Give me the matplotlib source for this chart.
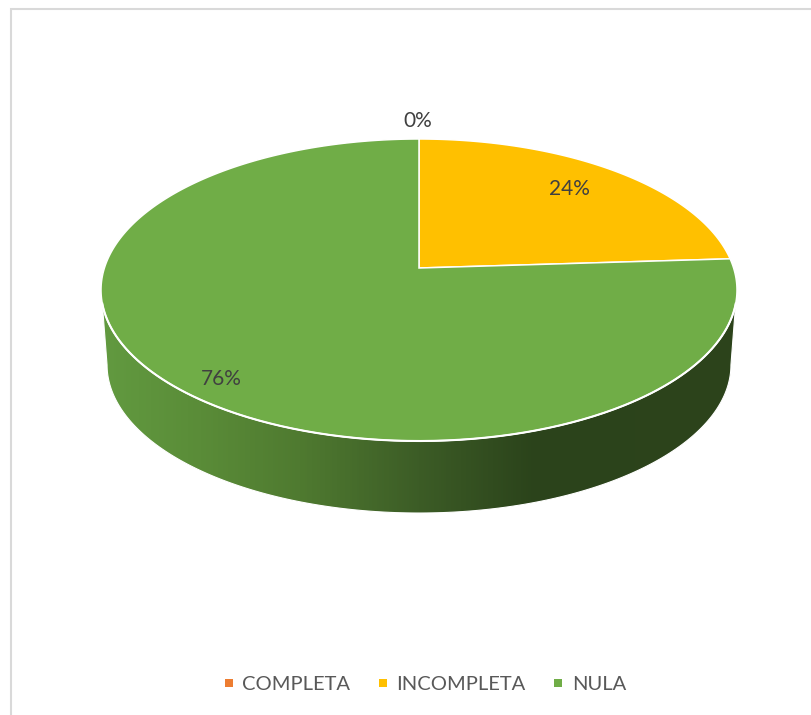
"""3D-style pie chart of completeness shares."""

import matplotlib
matplotlib.use("Agg")
import matplotlib.pyplot as plt
import numpy as np
from matplotlib.colors import LinearSegmentedColormap
from matplotlib.patches import Polygon, Rectangle

categories = ["COMPLETA", "INCOMPLETA", "NULA"]
shares = [0, 24, 76]
colors = ["#ED7D31", "#FFC000", "#70AD47"]

# Pie geometry in pixels, with a slight perspective on the tilted disc
CX, CY = 419, 268
RX, RY = 314.6, 147.8
PERSPECTIVE = 0.1457
BOTTOM_SCALE = 0.981
DEPTH = 75.3
W, H = 812, 715

plt.rcParams["font.family"] = ["Lato", "DejaVu Sans"]


def rim(theta, scale=1.0, drop=0.0):
    """Screen points of the disc rim; theta runs clockwise from the top, in degrees."""
    t = np.radians(theta)
    u, v = np.sin(t), np.cos(t)
    d = 1 + PERSPECTIVE * v
    return np.column_stack([CX + scale * RX * u / d, CY + drop - scale * RY * v / d])


fig = plt.figure(figsize=(W / 100, H / 100), dpi=100)
ax = fig.add_axes([0, 0, 1, 1])

# Side wall: lower half of the top rim joined to the lower half of the base rim
side_pts = np.vstack([
    rim(np.linspace(103.5, 256.5, 200)),
    rim(np.linspace(261.6, 98.4, 200), BOTTOM_SCALE, DEPTH),
])
side = Polygon(side_pts, closed=True, fc="none", ec="none")
ax.add_patch(side)

grad_x = [101, 200, 300, 420, 535, 737]
grad_c = ["#629A40", "#5A8C38", "#4F7A30", "#3C5C26", "#2B431B", "#2D441C"]
stops = [(x - grad_x[0]) / (grad_x[-1] - grad_x[0]) for x in grad_x]
cmap = LinearSegmentedColormap.from_list("side", list(zip(stops, grad_c)))
img = ax.imshow(np.linspace(0, 1, 636)[None, :], cmap=cmap, aspect="auto",
                extent=(101, 737, 520, 280), interpolation="bilinear", zorder=1)
img.set_clip_path(side)
ax.add_patch(Polygon(side_pts, closed=True, fc="none", ec="white", lw=0.8, zorder=2))

# Top face, clockwise from twelve o'clock
start = 0.0
for share, color in zip(shares, colors):
    sweep = 360 * share / sum(shares)
    if share > 0:
        arc = rim(np.linspace(start, start + sweep, 300))
        pts = np.vstack([[CX, CY], arc])
        ax.add_patch(Polygon(pts, closed=True, fc=color, ec="white", lw=1.1,
                             joinstyle="miter", zorder=3))
    start += sweep

# Brighter highlight where the top face meets the wall
lip = rim(np.linspace(103.5, 256.5, 300))
ax.plot(lip[:, 0], lip[:, 1], color="white", lw=1.5, zorder=3.5)

# Data labels
label_pos = [(418, 121), (569, 189), (221, 379)]
for share, (x, y) in zip(shares, label_pos):
    ax.text(x, y, f"{share}%", ha="center", va="center", fontsize=15,
            color="#404040", zorder=4)

# Legend row
swatch_x = [225, 379, 554]
label_x = [242, 396, 572]
for name, color, sx, lx in zip(categories, colors, swatch_x, label_x):
    ax.add_patch(Rectangle((sx, 679), 8, 8, fc=color, ec="none"))
    ax.text(lx, 684, name, ha="left", va="center", fontsize=14.5, color="#595959")

# Chart frame, visible along the top and left only
ax.plot([11, 11, W], [H, 9, 9], color="#D9D9D9", lw=1.5, solid_joinstyle="miter")

ax.set_xlim(0, W)
ax.set_ylim(H, 0)
ax.axis("off")
fig.savefig("out.png", dpi=100)
plt.close(fig)
